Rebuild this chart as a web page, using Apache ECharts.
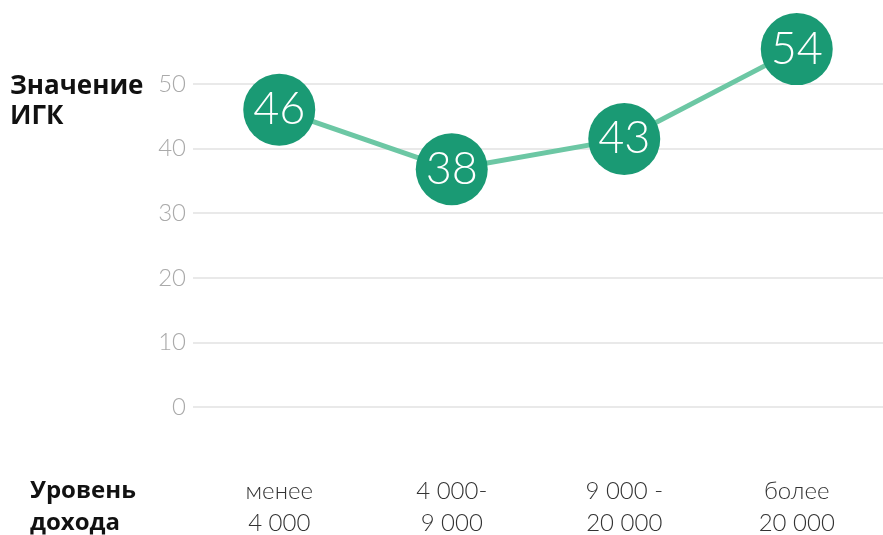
<!DOCTYPE html>
<html>
<head>
<meta charset="utf-8">
<script src="https://cdn.jsdelivr.net/npm/echarts@6/dist/echarts.min.js"></script>
<style>
  html, body { margin: 0; padding: 0; background: #fff; }
  #chart { width: 883px; height: 535px; }
</style>
</head>
<body>
<div id="chart"></div>
<script>
// income groups (x) and index values (y)
const categories = ["менее\n4 000", "4 000-\n9 000", "9 000 -\n20 000", "более\n20 000"];
const pointValues = [46, 36.8, 41.5, 55.4];
// numbers printed inside the circles
const valueLabels = [46, 38, 43, 54];
const yTicks = [0, 10, 20, 30, 40, 50];

const chart = echarts.init(document.getElementById("chart"));

const numFont = "Lato";

chart.setOption({
  animation: false,
  grid: { left: 193, right: 0, top: 84, bottom: 128, outerBoundsMode: "none", containLabel: false },
  xAxis: {
    type: "category",
    data: categories,
    boundaryGap: true,
    axisLine: { show: false },
    axisTick: { show: false },
    axisLabel: {
      margin: 68,
      fontFamily: numFont,
      fontWeight: 300,
      fontSize: 24,
      lineHeight: 32,
      color: "#333"
    }
  },
  yAxis: {
    type: "value",
    min: yTicks[0],
    max: yTicks[yTicks.length - 1],
    interval: 10,
    axisLine: { show: false },
    axisTick: { show: false },
    axisLabel: {
      margin: 7,
      fontFamily: numFont,
      fontWeight: 300,
      fontSize: 24,
      color: "#aaaaaa"
    },
    splitLine: { lineStyle: { color: "#e2e2e2", width: 1.5 } }
  },
  series: [{
    type: "line",
    data: pointValues,
    clip: false,
    symbol: "circle",
    symbolSize: 72,
    lineStyle: { color: "#6cc7a4", width: 5 },
    itemStyle: { color: "#1a9a74" },
    label: {
      show: true,
      position: "inside",
      formatter: p => String(valueLabels[p.dataIndex]),
      color: "#fff",
      fontFamily: numFont,
      fontWeight: 300,
      fontSize: 45
    },
    z: 3
  }],
  graphic: [
    {
      type: "text",
      left: 10,
      top: 72,
      style: {
        text: "Значение\nИГК",
        font: "bold 26px 'Open Sans'",
        lineHeight: 30,
        fill: "#111"
      }
    },
    {
      type: "text",
      left: 30,
      top: 475,
      style: {
        text: "Уровень\nдохода",
        font: "bold 24px 'Open Sans'",
        lineHeight: 32,
        fill: "#111"
      }
    }
  ]
});
</script>
</body>
</html>
